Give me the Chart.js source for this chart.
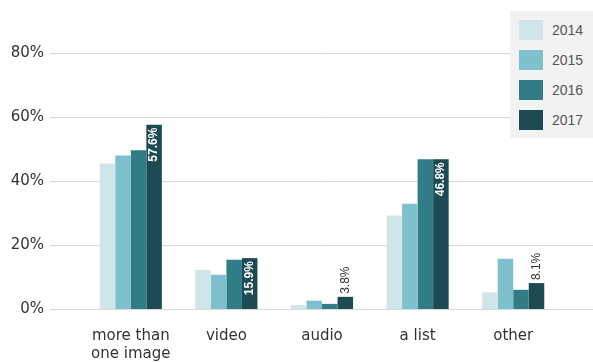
<!DOCTYPE html>
<html>
<head>
<meta charset="utf-8">
<script src="https://cdn.jsdelivr.net/npm/chart.js@4/dist/chart.umd.min.js"></script>
<style>
  html, body { margin: 0; padding: 0; background: #fff; }
  #wrap { position: relative; width: 593px; height: 363px; }
  #legend {
    position: absolute; left: 510px; top: 11px; width: 83px; height: 127px;
    background: #f2f2f2;
  }
  .item { position: absolute; left: 9px; height: 20px; }
  .item span.sw { position: absolute; left: 0; top: 0; width: 24px; height: 20px; }
  .item span.tx {
    position: absolute; left: 33px; top: 1px; font: 14px "Liberation Sans", Arial, sans-serif;
    color: #555; line-height: 18px;
  }
</style>
</head>
<body>
<div id="wrap">
  <canvas id="chart" width="593" height="363"></canvas>
  <div id="legend"></div>
</div>
<script>
  const categories = [['more than', 'one image'], 'video', 'audio', 'a list', 'other'];
  const years = ['2014', '2015', '2016', '2017'];
  const colors = ['#cfe5e9', '#7ec1cd', '#307d88', '#1e4b52'];

  const v2014 = [45.5, 12.2, 1.2, 29.2, 5.2];
  const v2015 = [48.0, 10.7, 2.6, 32.9, 15.7];
  const v2016 = [49.6, 15.4, 1.6, 46.8, 6.0];
  const v2017 = [57.6, 15.9, 3.8, 46.8, 8.1];

  const yTicks = [0, 20, 40, 60, 80];

  const series = [v2014, v2015, v2016, v2017];
  const tickFont = { family: '"DejaVu Sans", sans-serif', size: 15, lineHeight: 1.2 };

  // horizontal gridlines run from the label column to the page edge
  const gridLines = {
    id: 'gridLines',
    beforeDatasetsDraw(chart) {
      const y = chart.scales.y, ctx = chart.ctx;
      ctx.save();
      ctx.strokeStyle = '#d9d9d9';
      ctx.lineWidth = 1;
      yTicks.forEach(t => {
        const py = Math.round(y.getPixelForValue(t)) + 0.5;
        ctx.beginPath();
        ctx.moveTo(50, py);
        ctx.lineTo(chart.width, py);
        ctx.stroke();
      });
      ctx.restore();
    }
  };

  // rotated value labels on the 2017 bars
  const valueLabels = {
    id: 'valueLabels',
    afterDatasetsDraw(chart) {
      const ctx = chart.ctx;
      const meta = chart.getDatasetMeta(3);
      ctx.save();
      meta.data.forEach((bar, i) => {
        const text = v2017[i].toFixed(1) + '%';
        const h = bar.base - bar.y;
        ctx.save();
        ctx.translate(bar.x, bar.y);
        ctx.rotate(-Math.PI / 2);
        ctx.textBaseline = 'middle';
        ctx.font = 'bold 12px "Liberation Sans", Arial, sans-serif';
        const w = ctx.measureText(text).width;
        if (h > w + 8) {
          ctx.fillStyle = '#fff';
          ctx.textAlign = 'right';
          ctx.fillText(text, -3, 0);
        } else {
          ctx.font = '12px "Liberation Sans", Arial, sans-serif';
          ctx.fillStyle = '#333';
          ctx.textAlign = 'left';
          ctx.fillText(text, 3, 0);
        }
        ctx.restore();
      });
      ctx.restore();
    }
  };

  new Chart(document.getElementById('chart'), {
    type: 'bar',
    data: {
      labels: categories,
      datasets: series.map((d, i) => ({
        label: years[i],
        data: d,
        backgroundColor: colors[i],
        borderWidth: 0,
        categoryPercentage: 0.65,
        barPercentage: 1.0
      }))
    },
    options: {
      responsive: false,
      animation: false,
      layout: { padding: { left: 0, right: 32, top: 53, bottom: 0 } },
      plugins: { legend: { display: false }, tooltip: { enabled: false } },
      scales: {
        x: {
          grid: { display: false, drawTicks: false },
          border: { display: false },
          ticks: { font: tickFont, color: '#333', padding: 18, maxRotation: 0, autoSkip: false },
          afterFit(scale) { scale.paddingLeft = 0; scale.paddingRight = 0; scale.height = 54; }
        },
        y: {
          min: 0, max: 80,
          afterBuildTicks(scale) { scale.ticks = yTicks.map(v => ({ value: v })); },
          grid: { display: false, drawTicks: false },
          border: { display: false },
          ticks: { font: tickFont, color: '#333', padding: 39, callback: v => v + '%' },
          afterFit(scale) { scale.width = 83; scale.paddingTop = 0; scale.paddingBottom = 0; }
        }
      }
    },
    plugins: [gridLines, valueLabels]
  });

  const legendEl = document.getElementById('legend');
  years.forEach((yr, i) => {
    const item = document.createElement('div');
    item.className = 'item';
    item.style.top = (9 + i * 30) + 'px';
    item.innerHTML = '<span class="sw" style="background:' + colors[i] + '"></span><span class="tx">' + yr + '</span>';
    legendEl.appendChild(item);
  });
</script>
</body>
</html>
